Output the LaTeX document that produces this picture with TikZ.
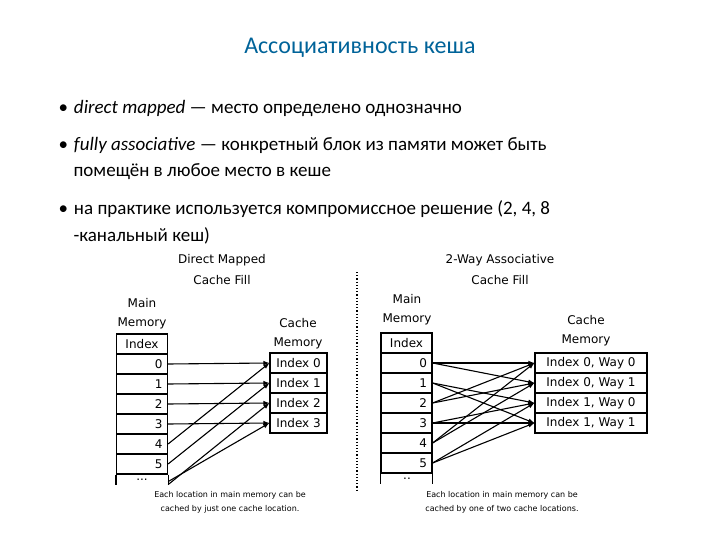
\documentclass[tikz,border=0pt]{standalone}
\usepackage{fontspec}
\setmainfont{Carlito}
\newfontfamily\djfont{DejaVu Sans}
\begin{document}
\begin{tikzpicture}[x=1pt,y=-1pt,
  body/.style={anchor=west,font=\fontsize{19}{22}\selectfont},
  lab/.style={font=\djfont\fontsize{12}{14}\selectfont},
  captext/.style={font=\djfont\fontsize{8}{10}\selectfont},
  cell/.style={draw,line width=1.2pt,minimum height=20pt,inner sep=0pt,font=\djfont\fontsize{12}{14}\selectfont},
  arr/.style={-latex,line width=1.1pt}]
\useasboundingbox (0,0) rectangle (720,540);
\node[font=\fontsize{24}{28}\selectfont,text=blue!35!cyan!60!black] (title) at (360,48) {Ассоциативность кеша};
\node[body] (b1) at (55,108) {•\hspace{6pt}\textit{direct mapped} — место определено однозначно};
\node[body] (b2) at (55,145) {•\hspace{6pt}\textit{fully associative} — конкретный блок из памяти может быть};
\node[body] (b2b) at (64,172) {\hspace{6pt}помещён в любое место в кеше};
\node[body] (b3) at (55,209) {•\hspace{6pt}на практике используется компромиссное решение (2, 4, 8};
\node[body] (b3b) at (64,236) {\hspace{6pt}-канальный кеш)};
% left
\node[lab] (lt1) at (222,260) {Direct Mapped};
\node[lab] (lt2) at (222,280) {Cache Fill};
\node[lab] (lm1) at (142,303) {Main};
\node[lab] (lm2) at (142,323) {Memory};
\node[cell,minimum width=51pt] (L) at (142,344) {Index};
\foreach \i in {0,...,5}{
  \node[cell,minimum width=51pt,text width=41pt,align=right] (L\i) at (142,364+20*\i) {\i};}
\draw[line width=1.2pt] (L5.south west) -- ++(0,10) coordinate (lx1);
\draw[line width=1.2pt] (L5.south east) -- ++(0,10) coordinate (lx2);
\node[lab] (ldots) at (142,480) {...};
\node[lab] (lc1) at (298,323) {Cache};
\node[lab] (lc2) at (298,343) {Memory};
\foreach \i in {0,...,3}{
  \node[cell,minimum width=57pt] (C\i) at (298.5,363+20*\i) {Index \i};}
\foreach \i/\j in {0/0,1/1,2/2,3/3,4/0,5/1}{\draw[arr] (L\i.east) -- (C\j.west);}
\draw[arr] (lx2) -- (C2.west);
\draw[arr] (lx2)++(0,-3) -- (C3.west);
\node[captext] (lcap1) at (230,495) {Each location in main memory can be};
\node[captext] (lcap2) at (230,509) {cached by just one cache location.};
\draw[dotted,line width=1.2pt] (357,272) -- (357,490);
% right
\node[lab] (rt1) at (500,260) {2-Way Associative};
\node[lab] (rt2) at (500,280) {Cache Fill};
\node[lab] (rm1) at (407,299) {Main};
\node[lab] (rm2) at (407,319) {Memory};
\node[cell,minimum width=51pt] (R) at (406.5,343) {Index};
\foreach \i in {0,...,5}{
  \node[cell,minimum width=51pt,text width=41pt,align=right] (R\i) at (406.5,363+20*\i) {\i};}
\draw[line width=1.2pt] (R5.south west) -- ++(0,10);
\draw[line width=1.2pt] (R5.south east) -- ++(0,10);
\node[lab] (rdots) at (407,479) {..};
\node[lab] (rc1) at (586,320) {Cache};
\node[lab] (rc2) at (586,340) {Memory};
\node[cell,minimum width=112pt] (D0) at (591,363) {Index 0, Way 0};
\node[cell,minimum width=112pt] (D1) at (591,383) {Index 0, Way 1};
\node[cell,minimum width=112pt] (D2) at (591,403) {Index 1, Way 0};
\node[cell,minimum width=112pt] (D3) at (591,423) {Index 1, Way 1};
\foreach \i/\a/\b in {0/0/1,1/2/3,2/0/1,3/2/3,4/0/1,5/2/3}{
  \draw[arr] (R\i.east) -- (D\a.west); \draw[arr] (R\i.east) -- (D\b.west);}
\node[captext] (rcap1) at (502,495) {Each location in main memory can be};
\node[captext] (rcap2) at (502,509) {cached by one of two cache locations.};
\end{tikzpicture}
\end{document}
